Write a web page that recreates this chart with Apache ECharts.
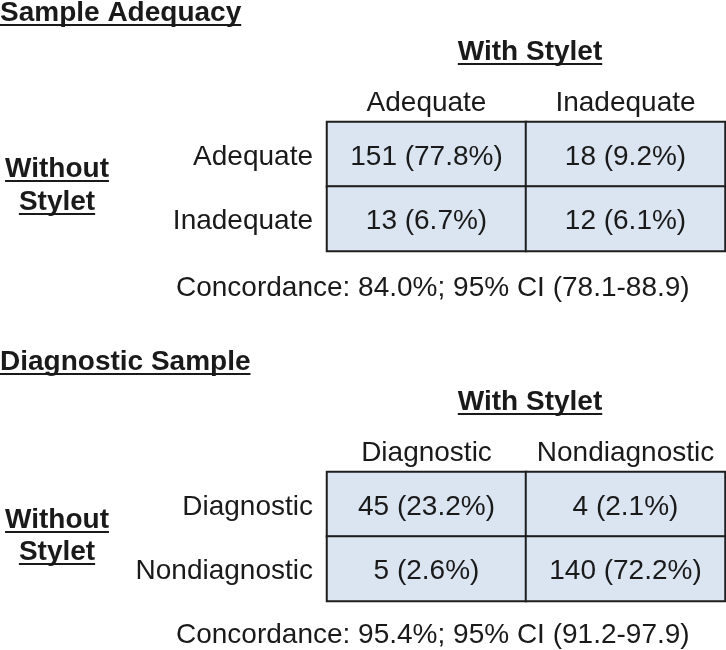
<!DOCTYPE html>
<html>
<head>
<meta charset="utf-8">
<script src="https://cdn.jsdelivr.net/npm/echarts@6/dist/echarts.min.js"></script>
<style>
  html, body { margin: 0; background: #fff; }
  #chart { width: 726px; height: 650px; }
</style>
</head>
<body>
<div id="chart"></div>
<script>
// table 1: sample adequacy
const adequacyCols = ['Adequate', 'Inadequate']
const adequacyRows = ['Adequate', 'Inadequate']
const adequacyCounts = [[151, 18], [13, 12]]
const adequacyPcts = [[77.8, 9.2], [6.7, 6.1]]
const adequacyNote = 'Concordance: 84.0%; 95% CI (78.1-88.9)'

// table 2: diagnostic sample
const diagCols = ['Diagnostic', 'Nondiagnostic']
const diagRows = ['Diagnostic', 'Nondiagnostic']
const diagCounts = [[45, 4], [5, 140]]
const diagPcts = [[23.2, 2.1], [2.6, 72.2]]
const diagNote = 'Concordance: 95.4%; 95% CI (91.2-97.9)'

const FAMILY = '"Liberation Sans", Arial, sans-serif'
const SIZE = 28
const INK = '#1a1a1a'
const CELL = '#dbe5f1'

const measureCtx = document.createElement('canvas').getContext('2d')
function textWidth(text, weight) {
  measureCtx.font = `${weight} ${SIZE}px ${FAMILY}`
  return measureCtx.measureText(text).width
}

// bold text with an underline; align is 'left' or 'center'
function underlined(text, x, y, align) {
  const w = textWidth(text, 'bold')
  const left = align === 'center' ? x - w / 2 : x
  return [
    {
      type: 'text',
      style: { text, x: left, y, fill: INK, font: `bold ${SIZE}px ${FAMILY}`, textVerticalAlign: 'middle' },
    },
    { type: 'rect', shape: { x: left, y: y + 11, width: w, height: 2 }, style: { fill: INK } },
  ]
}

function plain(text, x, y) {
  return {
    type: 'text',
    style: { text, x, y, fill: INK, font: `${SIZE}px ${FAMILY}`, textVerticalAlign: 'middle' },
  }
}

function cellData(counts) {
  const out = []
  counts.forEach((row, r) => row.forEach((v, c) => out.push([c, r, v])))
  return out
}

function tableSeries(idx, counts, pcts) {
  return {
    type: 'heatmap',
    xAxisIndex: idx,
    yAxisIndex: idx,
    data: cellData(counts),
    itemStyle: { color: CELL, borderColor: '#1e1e1e', borderWidth: 2 },
    label: {
      show: true,
      color: INK,
      fontSize: SIZE,
      fontFamily: FAMILY,
      offset: [0, 3],
      formatter: p => `${p.data[2]} (${pcts[p.data[1]][p.data[0]].toFixed(1)}%)`,
    },
    emphasis: { disabled: true },
  }
}

function xAxisFor(idx, cols) {
  return {
    type: 'category',
    gridIndex: idx,
    data: cols,
    position: 'top',
    axisLine: { show: false },
    axisTick: { show: false },
    splitLine: { show: false },
    axisLabel: { interval: 0, color: INK, fontSize: SIZE, fontFamily: FAMILY, margin: 5 },
  }
}

function yAxisFor(idx, rows) {
  return {
    type: 'category',
    gridIndex: idx,
    data: rows,
    inverse: true,
    axisLine: { show: false },
    axisTick: { show: false },
    splitLine: { show: false },
    axisLabel: {
      interval: 0,
      margin: 14,
      formatter: v => `{r|${v}}`,
      rich: { r: { color: INK, fontSize: SIZE, fontFamily: FAMILY, padding: [6, 0, 0, 0] } },
    },
  }
}

const chart = echarts.init(document.getElementById('chart'), null, { renderer: 'canvas' })

chart.setOption({
  animation: false,
  backgroundColor: '#fff',
  grid: [
    { left: 327, top: 122, width: 398, height: 129 },
    { left: 327, top: 472, width: 398, height: 129 },
  ],
  xAxis: [xAxisFor(0, adequacyCols), xAxisFor(1, diagCols)],
  yAxis: [yAxisFor(0, adequacyRows), yAxisFor(1, diagRows)],
  series: [
    tableSeries(0, adequacyCounts, adequacyPcts),
    tableSeries(1, diagCounts, diagPcts),
  ],
  graphic: [
    ...underlined('Sample Adequacy', 0, 13, 'left'),
    ...underlined('With Stylet', 530, 52, 'center'),
    ...underlined('Without', 57, 169, 'center'),
    ...underlined('Stylet', 57, 202, 'center'),
    plain(adequacyNote, 176, 288),
    ...underlined('Diagnostic Sample', 0, 362, 'left'),
    ...underlined('With Stylet', 530, 402, 'center'),
    ...underlined('Without', 57, 520, 'center'),
    ...underlined('Stylet', 57, 552, 'center'),
    plain(diagNote, 176, 635),
  ],
})
</script>
</body>
</html>
